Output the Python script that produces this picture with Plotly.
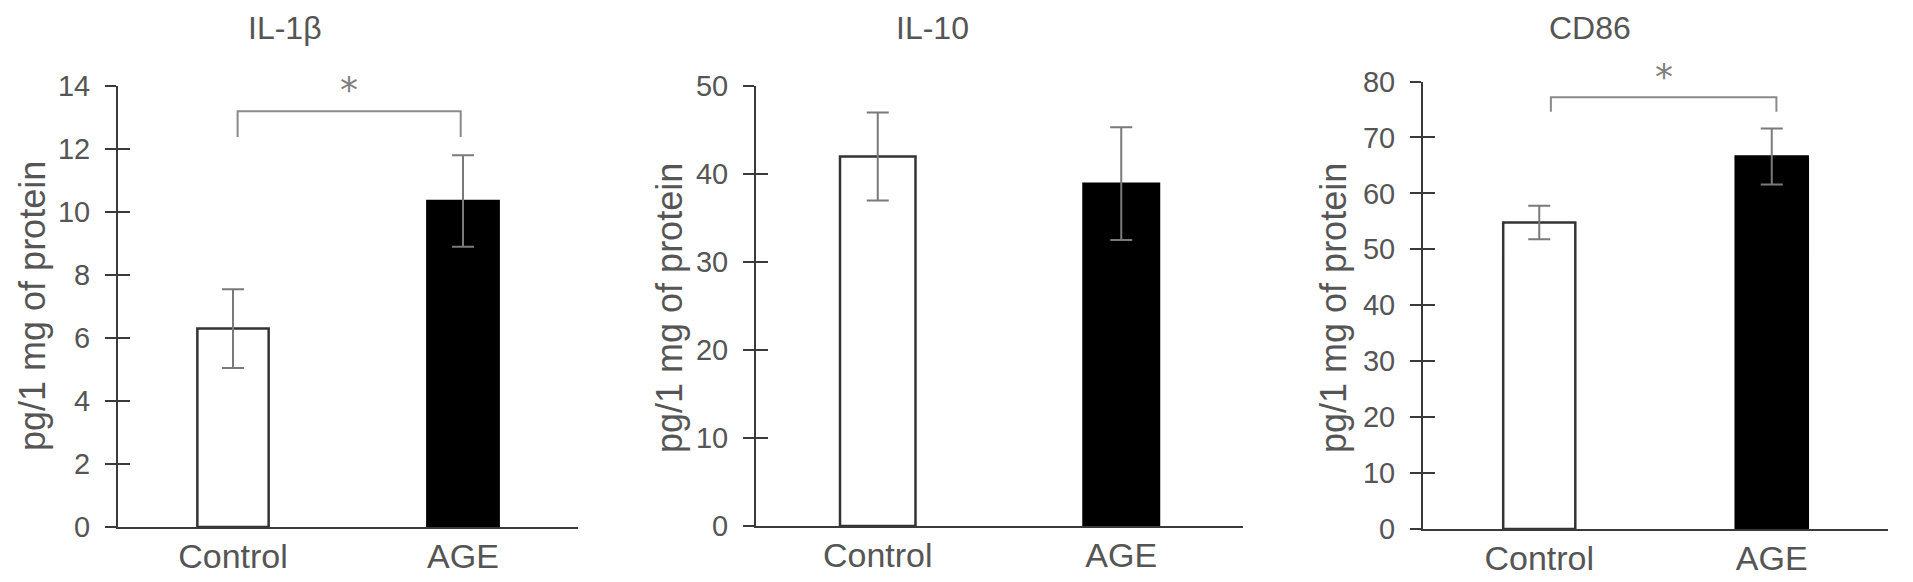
import plotly.graph_objects as go

W, H = 1913, 582

categories = ["Control", "AGE"]
panel_titles = ["IL-1β", "IL-10", "CD86"]
y_label = "pg/1 mg of protein"

il1b_mean = [6.3, 10.35]
il1b_err = [1.25, 1.45]
il10_mean = [42.0, 38.9]
il10_err = [5.0, 6.4]
cd86_mean = [54.8, 66.6]
cd86_err = [3.0, 5.0]

y_max = [14, 50, 80]
y_dtick = [2, 10, 10]

# significance brackets (x in category-index units)
sig_panels = [0, 2]
sig_x_left = [0.02, 0.05]
sig_x_right = [0.99, 1.02]
sig_low = [12.38, 74.6]
sig_high = [13.2, 77.2]
sig_star = [13.9, 80.9]

means = [il1b_mean, il10_mean, cd86_mean]
errs = [il1b_err, il10_err, cd86_err]
xpos = list(range(len(categories)))

# layout geometry (pixels)
x_dom_px = [(118, 578), (756, 1243), (1423, 1888)]
y_dom_px = [(527, 86), (526, 86), (529, 81.5)]
title_px = [(285, 28), (932, 28), (1590, 28)]
ylab_px = [(32, 306), (669, 308), (1333, 308)]

TXT = "#555555"
AX = "#3a3a3a"
FONT = "Liberation Sans, Arial, Helvetica, sans-serif"

fig = go.Figure()
layout = dict(
    template="none",
    width=W, height=H,
    margin=dict(l=0, r=0, t=0, b=0, autoexpand=False),
    paper_bgcolor="white", plot_bgcolor="white",
    showlegend=False,
    font=dict(family=FONT, color=TXT),
)
annotations = []

def names(n):
    xa = "x" if n == 1 else f"x{n}"
    ya = "y" if n == 1 else f"y{n}"
    return xa, ya

for i in range(3):
    n = i + 1
    xa, ya = names(n)
    ya_in = f"y{n + 3}"
    xkey = "xaxis" if n == 1 else f"xaxis{n}"
    ykey = "yaxis" if n == 1 else f"yaxis{n}"
    ykey_in = f"yaxis{n + 3}"

    fig.add_trace(go.Bar(
        x=xpos, y=means[i],
        xaxis=xa, yaxis=ya,
        width=0.31,
        marker=dict(color=["white", "black"],
                    line=dict(color=["#333333", "black"], width=2.5)),
        error_y=dict(type="data", array=errs[i], visible=True,
                     color="#7a7a7a", thickness=2, width=11),
        hoverinfo="skip",
    ))
    # transparent trace so the inner-tick axis is rendered
    fig.add_trace(go.Scatter(x=xpos, y=[0, 0], xaxis=xa, yaxis=ya_in,
                             mode="markers", marker=dict(opacity=0),
                             showlegend=False, hoverinfo="skip"))

    x0, x1 = x_dom_px[i]
    yb, yt = y_dom_px[i]
    layout[xkey] = dict(
        domain=[x0 / W, x1 / W], anchor=ya, automargin=False,
        range=[-0.5, 1.5], tickvals=xpos, ticktext=categories,
        showline=True, linecolor=AX, linewidth=2,
        ticks="", showgrid=False, zeroline=False,
        tickfont=dict(size=34, color=TXT, family=FONT),
        ticklabelstandoff=-2,
    )
    ydom = [1 - yb / H, 1 - yt / H]
    tickvals = list(range(0, y_max[i] + 1, y_dtick[i]))
    layout[ykey] = dict(
        domain=ydom, anchor=xa, automargin=False,
        range=[0, y_max[i]], tickvals=tickvals,
        showline=True, linecolor=AX, linewidth=2,
        ticks="outside", ticklen=11, tickwidth=2, tickcolor=AX,
        showgrid=False, zeroline=False,
        tickfont=dict(size=29, color=TXT, family=FONT),
        ticklabelstandoff=9,
    )
    layout[ykey_in] = dict(
        domain=ydom, anchor=xa, overlaying=ya, side="left", automargin=False,
        range=[0, y_max[i]], tickvals=tickvals,
        showline=False, showticklabels=False,
        ticks="inside", ticklen=12, tickwidth=2, tickcolor=AX,
        showgrid=False, zeroline=False,
    )

    tx, ty = title_px[i]
    annotations.append(dict(text=panel_titles[i], x=tx / W, y=1 - ty / H,
                            xref="paper", yref="paper", showarrow=False,
                            xanchor="center", yanchor="middle",
                            font=dict(size=32, color=TXT, family=FONT)))
    lx, ly = ylab_px[i]
    annotations.append(dict(text=y_label, x=lx / W, y=1 - ly / H,
                            xref="paper", yref="paper", showarrow=False,
                            textangle=-90, xanchor="center", yanchor="middle",
                            font=dict(size=36, color=TXT, family=FONT)))

for k, p in enumerate(sig_panels):
    xa, ya = names(p + 1)
    xl, xr = sig_x_left[k], sig_x_right[k]
    fig.add_trace(go.Scatter(
        x=[xl, xl, xr, xr],
        y=[sig_low[k], sig_high[k], sig_high[k], sig_low[k]],
        xaxis=xa, yaxis=ya, mode="lines",
        line=dict(color="#8a8a8a", width=2),
        hoverinfo="skip", cliponaxis=False,
    ))
    annotations.append(dict(text="*", x=(xl + xr) / 2, y=sig_star[k],
                            xref=xa, yref=f"{ya} domain",
                            showarrow=False, xanchor="center", yanchor="middle",
                            font=dict(size=36, color="#808080", family="DejaVu Sans")))
    annotations[-1]["y"] = sig_star[k] / y_max[p]

layout["annotations"] = annotations
fig.update_layout(**layout)
fig.write_html("out.html", config={"displayModeBar": False},
               post_script="document.body.style.margin='0';")
